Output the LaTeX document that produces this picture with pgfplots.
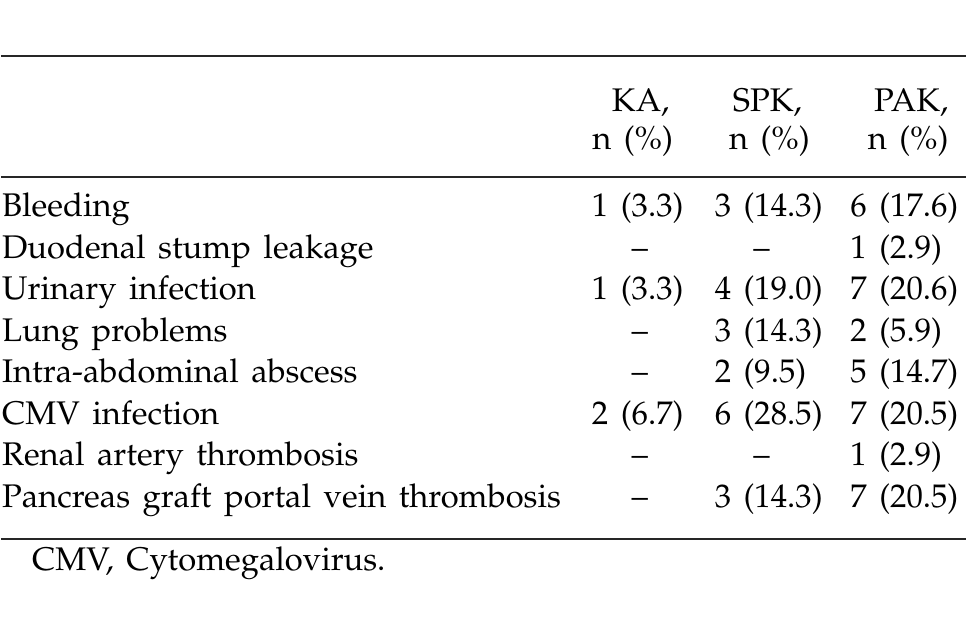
\documentclass[border=0pt]{standalone}
\usepackage[T1]{fontenc}
\usepackage{mathpazo}
\usepackage{pgfplots}
\usepackage{pgfplotstable}
\pgfplotsset{compat=1.18}
\newcommand{\tf}{\fontsize{32.8}{38}\selectfont\spaceskip=0.38em\relax}

% row labels: x (left), y (baseline, pixels from top)
\pgfplotstableread[col sep=comma]{
x,y,label
1,217,Bleeding
1,258.6,Duodenal stump leakage
1,300.2,Urinary infection
1,341.8,Lung problems
1,383.4,Intra-abdominal abscess
1,425,CMV infection
1,466.6,Renal artery thrombosis
1,508.2,Pancreas graft portal vein thrombosis
}\rowlabels

% numeric cells (left aligned within their column)
\pgfplotstableread[col sep=comma]{
x,y,label
592,217,1 (3.3)
715,217,3 (14.3)
851,217,6 (17.6)
851,258.6,1 (2.9)
592,300.2,1 (3.3)
715,300.2,4 (19.0)
851,300.2,7 (20.6)
715,341.8,3 (14.3)
851,341.8,2 (5.9)
715,383.4,2 (9.5)
851,383.4,5 (14.7)
592,425,2 (6.7)
715,425,6 (28.5)
851,425,7 (20.5)
851,466.6,1 (2.9)
715,508.2,3 (14.3)
851,508.2,7 (20.5)
}\numcells

% empty cells (dash, centred)
\pgfplotstableread[col sep=comma]{
x,y,label
640,258.6,--
762,258.6,--
640,341.8,--
640,383.4,--
640,466.6,--
762,466.6,--
640,508.2,--
}\dashcells

\begin{document}
\begin{tikzpicture}
\begin{axis}[
  width=967pt, height=629pt, scale only axis,
  xmin=0, xmax=967, ymin=0, ymax=629, y dir=reverse,
  hide axis, clip=false,
  point meta=explicit symbolic,
]
\path (axis cs:0,0) rectangle (axis cs:967,629);
\addplot[only marks, mark=none, nodes near coords,
  nodes near coords style={anchor=base west, inner sep=0pt, font=\tf, text=black}]
  table[x=x, y=y, meta=label]{\rowlabels};
\addplot[only marks, mark=none, nodes near coords,
  nodes near coords style={anchor=base west, inner sep=0pt, font=\tf, text=black}]
  table[x=x, y=y, meta=label]{\numcells};
\addplot[only marks, mark=none, nodes near coords,
  nodes near coords style={anchor=base, inner sep=0pt, font=\tf, text=black}]
  table[x=x, y=y, meta=label]{\dashcells};

% header
\node[anchor=base, inner sep=0pt, font=\tf] at (axis cs:641,111.7) {KA,};
\node[anchor=base, inner sep=0pt, font=\tf] at (axis cs:633,150) {n (\%)};
\node[anchor=base, inner sep=0pt, font=\tf] at (axis cs:768,111.7) {SPK,};
\node[anchor=base, inner sep=0pt, font=\tf] at (axis cs:770,150) {n (\%)};
\node[anchor=base, inner sep=0pt, font=\tf] at (axis cs:912,111.7) {PAK,};
\node[anchor=base, inner sep=0pt, font=\tf] at (axis cs:909,150) {n (\%)};

% rules
\draw[line width=1.9pt, black!85] (axis cs:0,56) -- (axis cs:967,56);
\draw[line width=1.9pt, black!85] (axis cs:0,177) -- (axis cs:967,177);
\draw[line width=1.9pt, black!85] (axis cs:0,540) -- (axis cs:967,540);

% footnote
\node[anchor=base west, inner sep=0pt, font=\tf] at (axis cs:31,572) {CMV, Cytomegalovirus.};
\end{axis}
\end{tikzpicture}
\end{document}
